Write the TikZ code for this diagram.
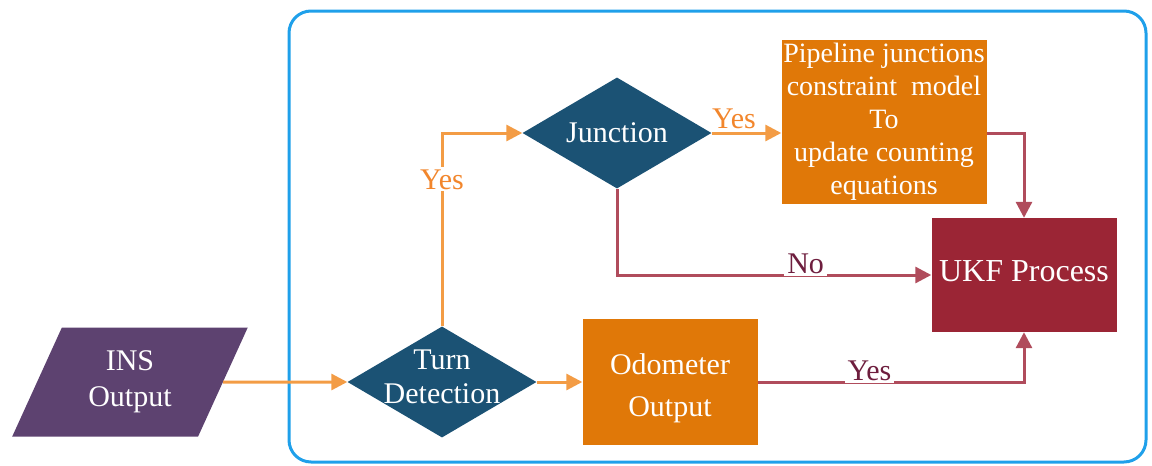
\documentclass[tikz,border=0pt]{standalone}
\usepackage{fontspec}
\setmainfont{Liberation Serif}
\usetikzlibrary{arrows.meta, shapes.geometric}
\definecolor{cFrame}{HTML}{1FA0EA}
\definecolor{cIn}{HTML}{5D4270}
\definecolor{cDec}{HTML}{1B5274}
\definecolor{cProc}{HTML}{E07808}
\definecolor{cUkf}{HTML}{9B2535}
\definecolor{cOrg}{HTML}{F39C45}
\definecolor{cOrgT}{HTML}{F2862C}
\definecolor{cMar}{HTML}{B04C5C}
\definecolor{cMarT}{HTML}{6E1E3E}

\begin{document}
\begin{tikzpicture}[
  x=1pt, y=-1pt,
  font=\fontsize{30}{34}\selectfont,
  frame/.style={draw=cFrame, line width=3pt, rounded corners=22pt},
  inbox/.style={trapezium, trapezium left angle=64, trapezium right angle=116,
                trapezium stretches=true, fill=cIn, text=white, align=center,
                inner sep=0pt, minimum width=236pt, minimum height=109pt},
  decision/.style={diamond, fill=cDec, inner sep=0pt,
                   minimum width=189pt, minimum height=111pt},
  dtxt/.style={text=white, align=center},
  proc/.style={rectangle, fill=cProc, text=white, align=center, inner sep=0pt},
  ukfbox/.style={rectangle, fill=cUkf, text=white, align=center, inner sep=0pt,
                 minimum width=185pt, minimum height=114pt},
  oarr/.style={-{Triangle[length=16pt, width=16pt]}, line width=3pt, draw=cOrg},
  marr/.style={-{Triangle[length=16pt, width=16pt]}, line width=3pt, draw=cMar},
  olbl/.style={text=cOrgT, inner sep=2pt},
  mlbl/.style={text=cMarT, fill=white, inner sep=3pt, anchor=base, yshift=2pt}
]
\useasboundingbox (0,0) rectangle (1152,466);

% outer frame
\draw[frame] (289,11) rectangle (1146,462);

% input and decisions
\node[inbox] (ins) at (130,382) {INS\\[2pt]Output};
\node[decision, label={[dtxt, yshift=5pt]center:Turn\\Detection}] (turn) at (442,382) {};
\node[decision, label={[dtxt]center:Junction}] (junc) at (617,133) {};

% processing boxes
\node[proc, minimum width=175pt, minimum height=126pt,
      label={[dtxt, yshift=-6pt]center:Odometer\\[8pt]Output}] (odo) at (670,382) {};
\node[proc, minimum width=205pt, minimum height=164pt,
      font=\fontsize{28}{33}\selectfont] (pipe) at (884,122)
  {Pipeline junctions\\constraint~ model\\To\\update counting\\equations};
\node[ukfbox, label={[dtxt, yshift=4pt, font=\fontsize{32}{36}\selectfont]center:UKF Process}]
  (ukf) at (1024,275) {};

% orange connectors
\draw[oarr] (ins.east) -- (turn.west);
\draw[oarr] (turn.east) -- (odo.west);
\draw[oarr] (turn.north) |- (junc.west)
  node[olbl, pos=0.38, fill=white] {Yes};
\draw[oarr] (junc.east) -- (junc.east -| pipe.west)
  node[olbl, pos=0.32, above=1pt] {Yes};

% maroon connectors
\draw[marr] ([yshift=-11pt]pipe.east) -| (ukf.north);
\draw[marr] (junc.south) |- (ukf.west)
  node[mlbl, pos=0.80] {No};
\draw[marr] (odo.east) -| (ukf.south)
  node[mlbl, pos=0.21] {Yes};

\end{tikzpicture}
\end{document}
